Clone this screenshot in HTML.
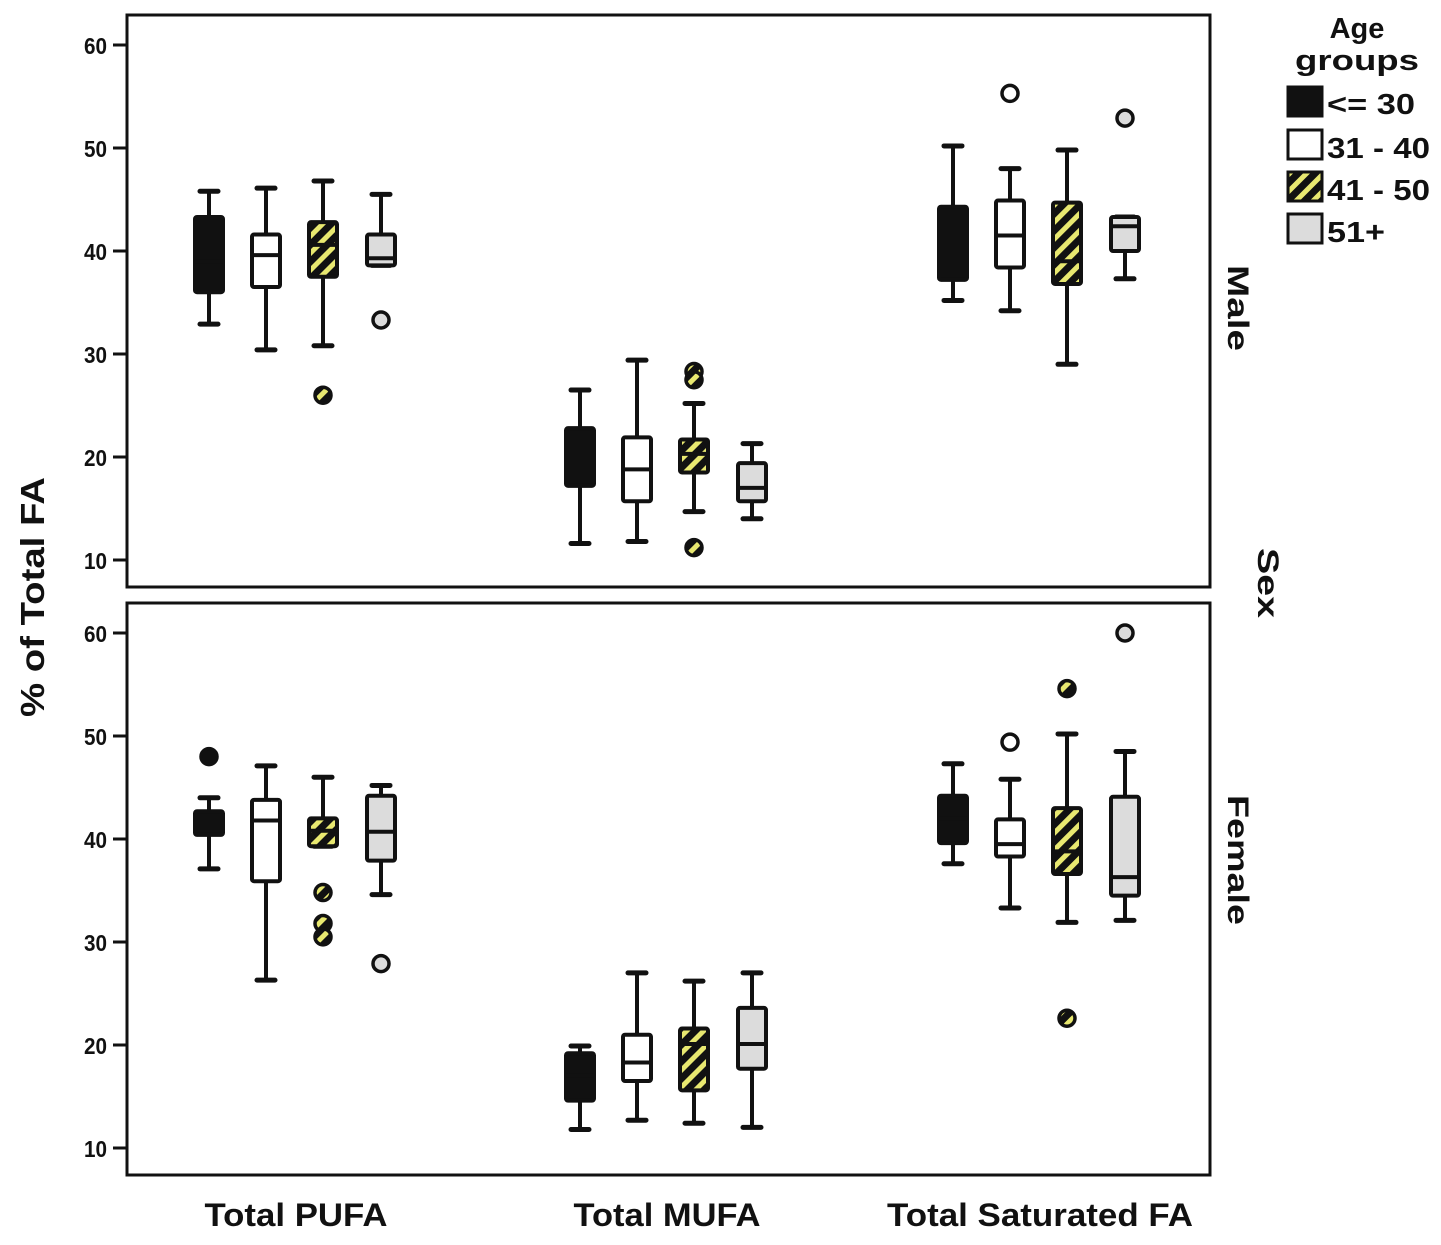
<!DOCTYPE html>
<html><head><meta charset="utf-8"><style>
body{margin:0;background:#fff}
svg text{font-family:"Liberation Sans",sans-serif;font-weight:bold;fill:#111}
</style></head><body>
<svg id="chart" width="1441" height="1240" xmlns="http://www.w3.org/2000/svg">
<defs>
<pattern id="hatch" patternUnits="userSpaceOnUse" width="12" height="12" patternTransform="rotate(45)">
<rect width="12" height="12" fill="#111"/><rect width="5" height="12" fill="#e8e870"/>
</pattern>
</defs>
<g id="plots"></g>
<text transform="translate(44,597) rotate(-90)" text-anchor="middle" font-size="33" textLength="240" lengthAdjust="spacingAndGlyphs">% of Total FA</text>
<text transform="translate(1228,308) rotate(90)" text-anchor="middle" font-size="30" textLength="86" lengthAdjust="spacingAndGlyphs">Male</text>
<text transform="translate(1258,583) rotate(90)" text-anchor="middle" font-size="30" textLength="70" lengthAdjust="spacingAndGlyphs">Sex</text>
<text transform="translate(1228,860) rotate(90)" text-anchor="middle" font-size="30" textLength="130" lengthAdjust="spacingAndGlyphs">Female</text>
<g>
<text x="1357" y="38" text-anchor="middle" font-size="29">Age</text>
<text x="1357" y="70" text-anchor="middle" font-size="29" textLength="124" lengthAdjust="spacingAndGlyphs">groups</text>
<rect x="1288" y="87" width="34" height="29" fill="#111" stroke="#111" stroke-width="3"/>
<text x="1327" y="114" font-size="29" textLength="88" lengthAdjust="spacingAndGlyphs">&lt;= 30</text>
<rect x="1288" y="130" width="34" height="29" fill="#fff" stroke="#111" stroke-width="3"/>
<text x="1327" y="158" font-size="29" textLength="103" lengthAdjust="spacingAndGlyphs">31 - 40</text>
<rect x="1288" y="172" width="34" height="29" fill="url(#hatch)" stroke="#111" stroke-width="3"/>
<text x="1327" y="200" font-size="29" textLength="103" lengthAdjust="spacingAndGlyphs">41 - 50</text>
<rect x="1288" y="214" width="34" height="29" fill="#dcdcdc" stroke="#111" stroke-width="3"/>
<text x="1327" y="242" font-size="29" textLength="58" lengthAdjust="spacingAndGlyphs">51+</text>
</g>
</svg>
<script>
const categories=["Total PUFA","Total MUFA","Total Saturated FA"];
const groups=["<= 30","31 - 40","41 - 50","51+"];
const yTicks=[10,20,30,40,50,60];
// each: [whiskerLow, q1, median, q3, whiskerHigh]
const maleStats=[
[[32.9,36,39,43.3,45.8],[30.4,36.5,39.6,41.6,46.1],[30.8,37.5,40.6,42.8,46.8],[38.6,38.6,39.3,41.6,45.5]],
[[11.6,17.2,20,22.8,26.5],[11.8,15.7,18.8,21.9,29.4],[14.7,18.5,20.3,21.7,25.2],[14,15.7,17,19.4,21.3]],
[[35.2,37.2,40,44.3,50.2],[34.2,38.4,41.5,44.9,48],[29,36.8,39,44.7,49.8],[37.3,40,42.4,43.3,43.3]]];
const maleOutliers=[[[],[],[26],[33.3]],[[],[],[28.3,27.5,11.2],[]],[[],[55.3],[],[52.9]]];
const femaleStats=[
[[37.1,40.4,41.5,42.7,44],[26.3,35.9,41.8,43.8,47.1],[39.3,39.3,40.8,42,46],[34.6,37.9,40.7,44.2,45.2]],
[[11.8,14.6,17,19.2,19.9],[12.7,16.5,18.3,21,27],[12.4,15.6,20.1,21.6,26.2],[12,17.7,20.1,23.6,27]],
[[37.6,39.6,42,44.2,47.3],[33.3,38.3,39.5,41.9,45.8],[31.9,36.6,38.8,43,50.2],[32.1,34.5,36.3,44.1,48.5]]];
const femaleOutliers=[[[48],[],[34.8,31.8,30.5],[27.9]],[[],[],[],[]],[[],[49.4],[54.6,22.6],[60]]];

const NS="http://www.w3.org/2000/svg";
const root=document.getElementById('plots');
const fills=["#111","#fff","url(#hatch)","#dcdcdc"];
const groupOffsets=[-87,-30,27,85];
const catCenters=[296,667,1040];
const catWidths=[183,187,306];
function xPos(c,g){return catCenters[c]+groupOffsets[g];}
function mk(tag,attrs,parent){const e=document.createElementNS(NS,tag);for(const k in attrs)e.setAttribute(k,attrs[k]);parent.appendChild(e);return e;}
function panel(top,bottom,stats,outs,name){
  const y0=top+30,y1=bottom-27;
  const y=v=>y0+(60-v)*(y1-y0)/50;
  const g=mk('g',{},root);
  
  
  const fr=mk('rect',{x:127,y:top,width:1083,height:bottom-top,fill:'none',stroke:'#111','stroke-width':3},g);
  
  
  yTicks.forEach(t=>{
    const ln=mk('line',{x1:113,x2:127,y1:y(t),y2:y(t),stroke:'#111','stroke-width':3},g);
    
    
    const tx=mk('text',{x:107,y:y(t)+9,'text-anchor':'end','font-size':23,textLength:23,lengthAdjust:'spacingAndGlyphs'},g);
    
    
    tx.textContent=t;
  });
  stats.forEach((cat,c)=>cat.forEach((s,gi)=>{
    const cx=xPos(c,gi),w=28;
    const bg=mk('g',{},g);
    
    
    mk('line',{x1:cx,x2:cx,y1:y(s[4]),y2:y(s[0]),stroke:'#111','stroke-width':4},bg);
    mk('line',{x1:cx-9,x2:cx+9,y1:y(s[4]),y2:y(s[4]),stroke:'#111','stroke-width':5,'stroke-linecap':'round'},bg);
    mk('line',{x1:cx-9,x2:cx+9,y1:y(s[0]),y2:y(s[0]),stroke:'#111','stroke-width':5,'stroke-linecap':'round'},bg);
    mk('rect',{x:cx-w/2,y:y(s[3]),width:w,height:Math.max(2,y(s[1])-y(s[3])),fill:fills[gi],stroke:'#111','stroke-width':4,rx:2},bg);
    mk('line',{x1:cx-w/2,x2:cx+w/2,y1:y(s[2]),y2:y(s[2]),stroke:'#111','stroke-width':4},bg);
    outs[c][gi].forEach(o=>{
      const ci=mk('circle',{cx:cx,cy:y(o),r:8,fill:gi==2?'url(#hatch)':fills[gi],stroke:'#111','stroke-width':3.5},g);
      
      
    });
  }));
}
panel(15,587,maleStats,maleOutliers,'male');
panel(603,1175,femaleStats,femaleOutliers,'female');
categories.forEach((c,i)=>{
  const t=mk('text',{x:catCenters[i],y:1226,'text-anchor':'middle','font-size':32,textLength:catWidths[i],lengthAdjust:'spacingAndGlyphs'},root);
  
  
  t.textContent=c;
});
</script>
</body></html>
